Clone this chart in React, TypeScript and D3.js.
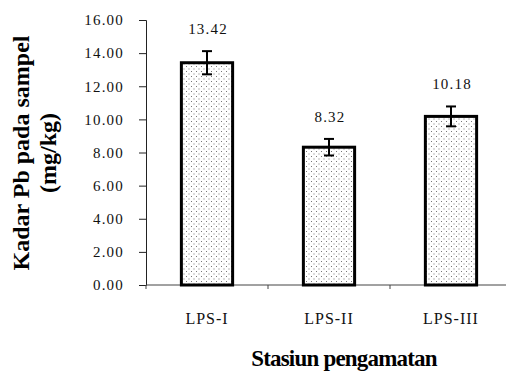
import React, { useEffect, useRef } from "react";
import * as d3 from "d3";

const stations = ["LPS-I", "LPS-II", "LPS-III"];
const kadarPb = [13.42, 8.32, 10.18];
const errors = [0.7, 0.5, 0.6];
const yTicks = [0, 2, 4, 6, 8, 10, 12, 14, 16];

const FONT = "'Liberation Serif', 'DejaVu Serif', serif";

const App = () => {
    const ref = useRef<SVGSVGElement>(null);

    useEffect(() => {
        const svg = d3.select(ref.current);
        svg.selectChildren().remove();
        const width = 506;
        const height = 376;
        const margin = { top: 20, right: -6, bottom: 91, left: 146 };

        svg.attr("width", width).attr("height", height)
            .style("font-family", FONT)
            .style("display", "block")
            .style("background", "#fff");

        // dotted fill for the bars
        const pat = svg.append("defs").append("pattern")
            .attr("id", "dots")
            .attr("patternUnits", "userSpaceOnUse")
            .attr("width", 5)
            .attr("height", 5);
        pat.append("rect").attr("width", 5).attr("height", 5).attr("fill", "#fff");
        pat.append("rect").attr("x", 1).attr("y", 1).attr("width", 1).attr("height", 1).attr("fill", "#777");
        pat.append("rect").attr("x", 3.5).attr("y", 3.5).attr("width", 1).attr("height", 1).attr("fill", "#777");

        const x = d3.scaleBand()
            .domain(stations)
            .range([margin.left, width - margin.right])
            .paddingInner(0.58)
            .paddingOuter(0.29);

        const y = d3.scaleLinear()
            .domain([0, 16])
            .range([height - margin.bottom, margin.top]);

        // Y axis
        const yAxis = svg.append("g")
            .attr("transform", `translate(${margin.left},0)`)
            .call(d3.axisLeft(y).tickValues(yTicks).tickSize(7).tickSizeOuter(7)
                .tickFormat(d => d3.format(".2f")(d as number)));
        yAxis.attr("font-family", null).attr("font-size", 15);
        yAxis.select(".domain").attr("stroke", "#222");
        yAxis.selectAll(".tick line").attr("stroke", "#222");
        yAxis.selectAll(".tick text")
            .attr("x", -22)
            .attr("fill", "#111")
            .style("font-family", FONT)
            .attr("letter-spacing", 1.2);

        // X axis
        const y0 = y(0);
        const step = x.step();
        svg.append("line")
            .attr("x1", margin.left).attr("x2", width)
            .attr("y1", y0).attr("y2", y0)
            .attr("stroke", "#444");
        stations.slice(0, -1).forEach(s => {
            const tx = x(s)! + x.bandwidth() / 2 + step / 2;
            svg.append("line")
                .attr("x1", tx).attr("x2", tx)
                .attr("y1", y0).attr("y2", y0 + 4)
                .attr("stroke", "#444");
        });
        svg.append("line")
            .attr("x1", margin.left).attr("x2", margin.left)
            .attr("y1", y0).attr("y2", y0 + 4)
            .attr("stroke", "#444");

        svg.selectAll(".cat")
            .data(stations)
            .enter().append("text")
            .attr("x", d => x(d)! + x.bandwidth() / 2)
            .attr("y", y0 + 39)
            .attr("text-anchor", "middle")
            .attr("fill", "#111")
            .attr("font-size", 16)
            .attr("letter-spacing", 1)
            .text(d => d);

        // Bars
        const data = stations.map((s, i) => ({ s, v: kadarPb[i], e: errors[i] }));
        svg.selectAll(".bar")
            .data(data)
            .enter().append("rect")
            .attr("x", d => x(d.s)!)
            .attr("y", d => y(d.v))
            .attr("width", x.bandwidth())
            .attr("height", d => y0 - y(d.v))
            .attr("fill", "url(#dots)")
            .attr("stroke", "#000")
            .attr("stroke-width", 3);

        // Error bars
        const eb = svg.selectAll(".err")
            .data(data)
            .enter().append("g");
        const cx = (d: { s: string }) => x(d.s)! + x.bandwidth() / 2;
        eb.append("line")
            .attr("x1", cx).attr("x2", cx)
            .attr("y1", d => y(d.v + d.e)).attr("y2", d => y(d.v - d.e))
            .attr("stroke", "#000").attr("stroke-width", 2);
        eb.append("line")
            .attr("x1", d => cx(d) - 5).attr("x2", d => cx(d) + 5)
            .attr("y1", d => y(d.v + d.e)).attr("y2", d => y(d.v + d.e))
            .attr("stroke", "#000").attr("stroke-width", 2);
        eb.append("line")
            .attr("x1", d => cx(d) - 5).attr("x2", d => cx(d) + 5)
            .attr("y1", d => y(d.v - d.e)).attr("y2", d => y(d.v - d.e))
            .attr("stroke", "#000").attr("stroke-width", 2);

        // Value labels
        svg.selectAll(".val")
            .data(data)
            .enter().append("text")
            .attr("x", d => cx(d) + 1)
            .attr("y", d => y(d.v + d.e) - 17)
            .attr("text-anchor", "middle")
            .attr("fill", "#111")
            .attr("font-size", 15)
            .attr("letter-spacing", 1.2)
            .text(d => d3.format(".2f")(d.v));

        // Axis titles
        svg.append("text")
            .attr("x", 344)
            .attr("y", 366)
            .attr("text-anchor", "middle")
            .attr("fill", "#000")
            .attr("font-size", 23)
            .attr("font-weight", "bold")
            .attr("letter-spacing", -0.8)
            .text("Stasiun pengamatan");

        const yt = svg.append("text")
            .attr("transform", "translate(0,153) rotate(-90)")
            .attr("text-anchor", "middle")
            .attr("fill", "#000")
            .attr("font-size", 24)
            .attr("font-weight", "bold");
        yt.append("tspan").attr("x", 0).attr("y", 29).text("Kadar Pb pada sampel");
        yt.append("tspan").attr("x", 0).attr("y", 56).text("(mg/kg)");
    });

    return (
        <svg ref={ref} style={{ position: "absolute", left: 0, top: 0 }} />
    );
};

export default App;
